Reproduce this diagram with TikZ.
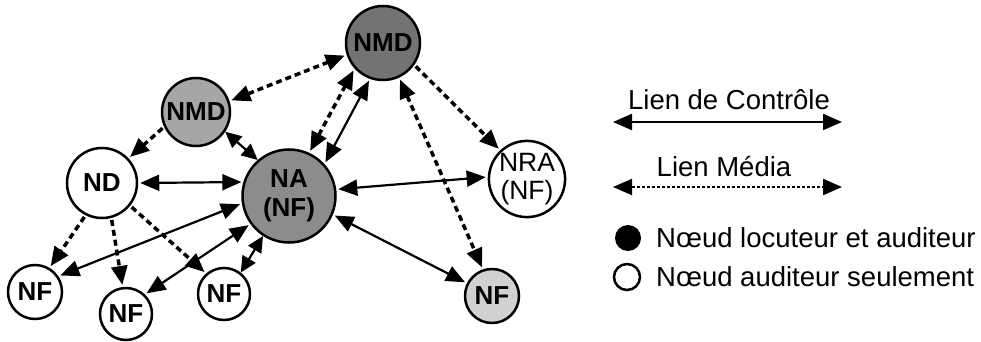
\documentclass[tikz,border=0pt]{standalone}
\usepackage{fontspec}
\setmainfont{Liberation Sans}
\usetikzlibrary{arrows.meta}
\begin{document}
\begin{tikzpicture}[x=1pt,y=-1pt,
  >={Triangle[length=19pt,width=16pt]},
  nd/.style={circle,draw,line width=2.5pt,inner sep=0pt,align=center,
    font=\fontsize{26}{29}\selectfont\bfseries},
  spk/.style={nd,fill=black!38},
  ctl/.style={line width=2.2pt,<->,shorten <=2pt,shorten >=2pt},
  ctlshort/.style={line width=2.2pt,{Triangle[length=16pt,width=15pt]}-{Triangle[length=16pt,width=15pt]}},
  medb/.style={line width=3.5pt,dash pattern=on 6pt off 4pt,<->,shorten <=2pt,shorten >=2pt},
  meds/.style={line width=3.5pt,dash pattern=on 6pt off 4pt,->,shorten <=2pt,shorten >=2pt},
  lg/.style={inner sep=0pt,font=\fontsize{27.5}{30}\selectfont}]
\useasboundingbox (0,0) rectangle (981,342);
% nodes
\node[spk,fill=black!55,minimum size=74pt] (NMDt) at (383,43) {NMD};
\node[spk,fill=black!35,minimum size=68pt] (NMDl) at (196,112) {NMD};
\node[nd,minimum size=70pt] (ND) at (102,183) {ND};
\node[spk,fill=black!45,minimum size=93pt] (NA) at (289,196) {NA\\(NF)};
\node[nd,minimum size=54pt] (NF1) at (35,292) {NF};
\node[nd,minimum size=52pt] (NF2) at (126,314) {NF};
\node[nd,minimum size=52pt] (NF3) at (224,294) {NF};
\node[nd,minimum size=70pt,font=\fontsize{26.5}{28}\selectfont] (NRA) at (527,179) {NRA\\(NF)};
\node[spk,fill=black!18,minimum size=54pt] (NFr) at (492,296) {NF};
% media links
\draw[medb] (NMDl.18) -- (NMDt.198);
\draw[meds] (NMDl.205) -- (ND.43);
\draw[medb] (NA.65) -- (NMDt.222);
\draw[medb] (NMDt.295) -- (NFr.109);
\draw[meds] (NMDt.325) -- (NRA.133);
\draw[meds] (ND.243) -- (NF1.59);
\draw[meds] (ND.285) -- (NF2.97);
\draw[meds] (ND.321) -- (NF3.131);
% control links
\draw[ctl] (NA.42) -- (NMDt.250);
\draw[ctlshort] (NMDl.326) -- (NA.131);
\draw[ctl] (ND.0) -- (NA.163);
\draw[ctl] (NA.189) -- (NF1.34);
\draw[ctl] (NA.216) -- (NF2.46);
\draw[ctlshort] (NA.237) -- (NF3.52);
\draw[ctl] (NA.8) -- (NRA.177);
\draw[ctl] (NA.337) -- (NFr.153);
% legend
\coordinate (c1) at (613,122);
\coordinate (c2) at (842,122);
\draw[ctl,shorten <=0pt,shorten >=0pt] (c1) -- (c2);
\node[lg] (t1) at (729,100) {Lien de Contrôle};
\coordinate (m1) at (613,187);
\coordinate (m2) at (842,187);
\draw[<->,line width=2pt,dash pattern=on 3pt off 2pt] (m1) -- (m2);
\node[lg] (t2) at (724,167) {Lien Média};
\node[circle,fill=black,minimum size=26pt,inner sep=0pt] (lf) at (628,238) {};
\node[lg,anchor=west] (t3) at (656,238) {Nœud locuteur et auditeur};
\node[circle,draw,line width=2.5pt,minimum size=26pt,inner sep=0pt] (le) at (627,277) {};
\node[lg,anchor=west] (t4) at (656,277) {Nœud auditeur seulement};
\end{tikzpicture}
\end{document}
